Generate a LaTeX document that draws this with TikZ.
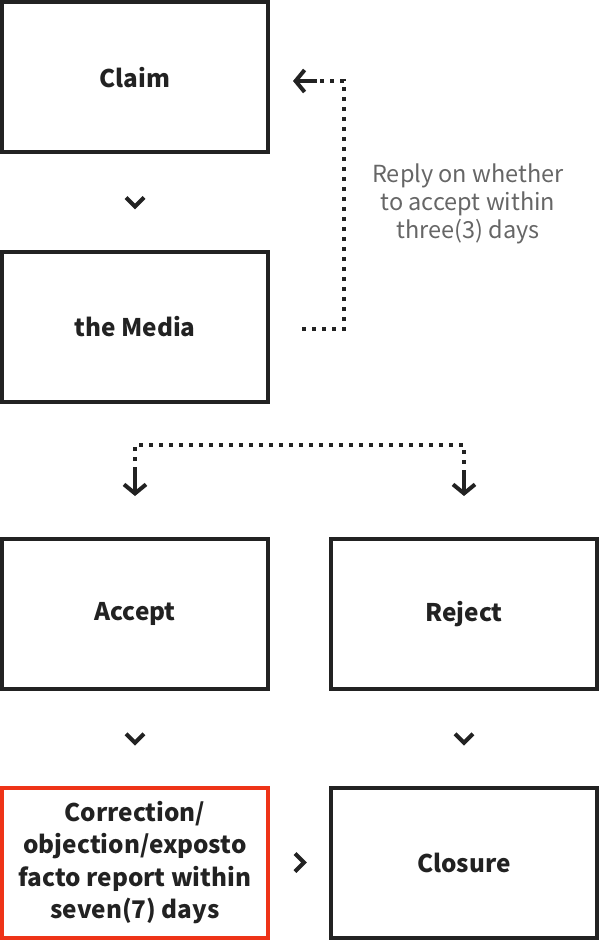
\documentclass[tikz,border=0pt]{standalone}
\usepackage{fontspec}
\setmainfont{Noto Sans CJK KR}
\usepackage{xcolor}
\usepackage{tikz}
\usetikzlibrary{arrows.meta,positioning,calc}
\definecolor{boxgray}{HTML}{222222}
\definecolor{notered}{HTML}{EE3318}
\definecolor{notegray}{HTML}{666666}

\begin{document}
\begin{tikzpicture}[x=1pt,y=-1pt,
  stage/.style={draw=boxgray,line width=4pt,minimum width=266pt,minimum height=150pt,
    align=center,font=\fontsize{24.3}{32.5}\selectfont\bfseries,text=boxgray,inner sep=0pt},
  chev/.style={draw=boxgray,line width=4pt,line cap=butt,line join=miter},
  dots/.style={draw=boxgray,line width=4pt,dash pattern=on 4pt off 6pt},
  tip/.style={draw=boxgray,line width=4pt,-{Straight Barb[length=9pt,width=22pt,line width=4pt]}}]
  \useasboundingbox (0,0) rectangle (600,941);

  % Left column
  \node[stage] (claim) at (135,77.5) {Claim};
  \node[stage] (media) at (135,326.5) {the Media};
  \node[stage] (accept) at (135,614) {Accept};
  \node[stage,draw=notered] (correct) at (135,862.5) {Correction/\\objection/exposto\\facto report within\\seven(7) days};

  % Right column
  \node[stage] (reject) at (464,614) {Reject};
  \node[stage] (closure) at (464,862.5) {Closure};

  % Chevrons between stages
  \draw[chev] ($(claim.south)!0.5!(media.north)$) ++(-9,-4.5) -- ++(9,9) -- ++(9,-9);
  \draw[chev] ($(accept.south)!0.5!(correct.north)$) ++(-9,-4.5) -- ++(9,9) -- ++(9,-9);
  \draw[chev] ($(reject.south)!0.5!(closure.north)$) ++(-9,-4.5) -- ++(9,9) -- ++(9,-9);
  \draw[chev] ($(correct.east)!0.5!(closure.west)$) ++(-4.5,-9) -- ++(9,9) -- ++(-9,9);

  % Reply loop back to the claim
  \coordinate (loopstart) at ([xshift=32pt,yshift=-2.5pt]media.east);
  \coordinate (looptip) at ([xshift=23pt,yshift=-3.5pt]claim.east);
  \draw[dots] (loopstart) -- ++(42,0) |- ([xshift=24pt]looptip);
  \draw[tip] ([xshift=24pt]looptip) -- (looptip);
  \node[text=notegray,align=center,font=\fontsize{23.5}{28}\selectfont] (reply)
    at (468,204) {Reply on whether\\to accept within\\three(3) days};

  % Split to accept / reject
  \coordinate (split) at (135,445);
  \draw[dots] ([yshift=66pt]accept.north) |- (split) -| ([yshift=66pt]reject.north);
  \draw[tip] ([yshift=66pt]accept.north) -- ([yshift=41pt]accept.north);
  \draw[tip] ([yshift=66pt]reject.north) -- ([yshift=41pt]reject.north);
\end{tikzpicture}
\end{document}
